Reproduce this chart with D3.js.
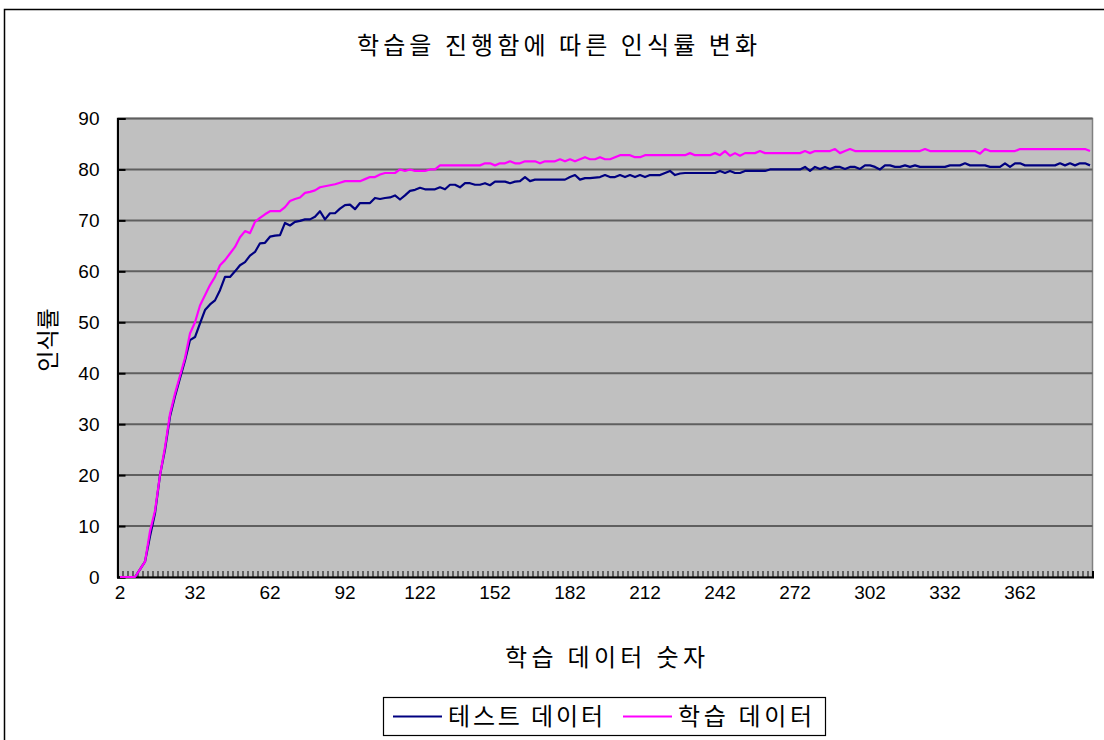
<!DOCTYPE html>
<html>
<head>
<meta charset="utf-8">
<script src="https://cdn.jsdelivr.net/npm/d3@7"></script>
<style>
  body { margin: 0; background: #fff; }
  text { fill: #000; }
</style>
</head>
<body>
<script>
// 학습 데이터 숫자 (2 .. 390, step 2)
var categories = d3.range(2, 392, 2);
var tickLabels = [2, 32, 62, 92, 122, 152, 182, 212, 242, 272, 302, 332, 362];
var yTicks = [0, 10, 20, 30, 40, 50, 60, 70, 80, 90];

var seriesNames = ["테스트 데이터", "학습 데이터"];

var testData = [
  0, 0, 0, 0, 1.5, 3, 8, 12.5, 20, 25,
  31.5, 35.5, 39, 42.5, 46.5, 47.1, 49.8, 52.4, 53.5, 54.3,
  56.3, 58.9, 58.9, 60, 61.2, 61.8, 63.1, 63.8, 65.5, 65.6,
  66.8, 67, 67.1, 69.5, 69, 69.7, 69.9, 70.2, 70.2, 70.7,
  71.8, 70.2, 71.4, 71.4, 72.3, 73, 73.1, 72.2, 73.4, 73.4,
  73.4, 74.4, 74.2, 74.4, 74.5, 74.9, 74.1, 74.9, 75.8, 76,
  76.4, 76.1, 76.1, 76.1, 76.5, 76.1, 77, 77, 76.5, 77.3,
  77.3, 77, 77, 77.3, 76.9, 77.6, 77.6, 77.6, 77.3, 77.6,
  77.7, 78.5, 77.7, 78, 78, 78, 78, 78, 78, 78,
  78.5, 78.9, 78, 78.3, 78.3, 78.4, 78.5, 78.9, 78.5, 78.5,
  78.9, 78.5, 78.9, 78.5, 78.9, 78.5, 78.9, 78.9, 78.9, 79.3,
  79.7, 78.9, 79.2, 79.3, 79.3, 79.3, 79.3, 79.3, 79.3, 79.3,
  79.7, 79.3, 79.7, 79.3, 79.3, 79.7, 79.7, 79.7, 79.7, 79.7,
  80, 80, 80, 80, 80, 80, 80, 80.5, 79.7, 80.5,
  80.1, 80.5, 80.1, 80.5, 80.5, 80.1, 80.5, 80.5, 80.1, 80.8,
  80.8, 80.5, 80, 80.8, 80.8, 80.5, 80.5, 80.8, 80.5, 80.8,
  80.5, 80.5, 80.5, 80.5, 80.5, 80.5, 80.8, 80.8, 80.8, 81.2,
  80.8, 80.8, 80.8, 80.8, 80.5, 80.5, 80.5, 81.2, 80.5, 81.2,
  81.2, 80.8, 80.8, 80.8, 80.8, 80.8, 80.8, 80.8, 81.2, 80.8,
  81.2, 80.8, 81.2, 81.2, 80.8
];

var trainData = [
  0, 0, 0, 0, 1.5, 3, 9, 13, 20, 25.5,
  32, 36, 39.5, 43, 47.8, 50, 53.3, 55.3, 57.3, 58.9,
  61.2, 62.2, 63.5, 64.8, 66.7, 67.9, 67.5, 69.7, 70.5, 71.2,
  71.8, 71.8, 71.8, 72.6, 73.8, 74.2, 74.5, 75.4, 75.6, 75.9,
  76.5, 76.7, 76.9, 77.1, 77.4, 77.7, 77.7, 77.7, 77.7, 78.1,
  78.5, 78.5, 79, 79.3, 79.3, 79.3, 80, 79.7, 80, 79.7,
  79.7, 79.7, 80, 80, 80.8, 80.8, 80.8, 80.8, 80.8, 80.8,
  80.8, 80.8, 80.8, 81.2, 81.2, 80.8, 81.2, 81.2, 81.6, 81.2,
  81.2, 81.6, 81.6, 81.6, 81.2, 81.6, 81.6, 81.6, 82, 81.6,
  82, 81.6, 82, 82.4, 82, 82, 82.4, 82, 82, 82.4,
  82.8, 82.8, 82.8, 82.4, 82.4, 82.8, 82.8, 82.8, 82.8, 82.8,
  82.8, 82.8, 82.8, 82.8, 83.2, 82.8, 82.8, 82.8, 82.8, 83.2,
  82.8, 83.6, 82.7, 83.2, 82.7, 83.2, 83.2, 83.2, 83.6, 83.2,
  83.2, 83.2, 83.2, 83.2, 83.2, 83.2, 83.2, 83.6, 83.2, 83.6,
  83.6, 83.6, 83.6, 84, 83.2, 83.6, 84, 83.6, 83.6, 83.6,
  83.6, 83.6, 83.6, 83.6, 83.6, 83.6, 83.6, 83.6, 83.6, 83.6,
  83.6, 84, 83.6, 83.6, 83.6, 83.6, 83.6, 83.6, 83.6, 83.6,
  83.6, 83.6, 83.1, 84, 83.6, 83.6, 83.6, 83.6, 83.6, 83.6,
  84, 84, 84, 84, 84, 84, 84, 84, 84, 84,
  84, 84, 84, 84, 83.6
];

var colors = ["#000080", "#ff00ff"];

var W = 1104, H = 740;
var plot = {left: 117.5, right: 1092.5, top: 118.5, bottom: 577};

var svg = d3.select("body").append("svg")
    .attr("width", W)
    .attr("height", H)
    .style("font-family", "'Liberation Sans', Arial, sans-serif");

// outer chart border
svg.append("rect")
    .attr("x", 4.5).attr("y", 9.5)
    .attr("width", 1120).attr("height", 760)
    .attr("fill", "#fff")
    .attr("stroke", "#000")
    .attr("stroke-width", 1.5);

var x = d3.scaleBand()
    .domain(categories)
    .range([plot.left, plot.right])
    .padding(0);

var xEdge = d3.scaleLinear()
    .domain([0, categories.length])
    .range([plot.left, plot.right]);

var y = d3.scaleLinear()
    .domain([0, 90])
    .range([plot.bottom, plot.top]);

// plot area
svg.append("rect")
    .attr("x", plot.left).attr("y", plot.top)
    .attr("width", plot.right - plot.left)
    .attr("height", plot.bottom - plot.top)
    .attr("fill", "#c0c0c0")
    .attr("stroke", "#808080")
    .attr("stroke-width", 1.5);

// gridlines
svg.append("g")
  .selectAll("line")
  .data(yTicks.slice(1))
  .enter().append("line")
    .attr("x1", plot.left).attr("x2", plot.right)
    .attr("y1", function(d) { return y(d); })
    .attr("y2", function(d) { return y(d); })
    .attr("stroke", "#5f5f5f")
    .attr("stroke-width", 2);

// y axis
var yAxis = svg.append("g")
    .attr("transform", "translate(" + plot.left + ",0)")
    .call(d3.axisLeft(y).tickValues(yTicks).tickSize(-8).tickPadding(18));
yAxis.select(".domain").attr("stroke", "#000").attr("stroke-width", 2);
yAxis.selectAll(".tick line").attr("stroke", "#000").attr("stroke-width", 2);
yAxis.selectAll("text").attr("font-size", 19).attr("fill", "#000");

// x axis minor ticks (category boundaries)
var xTickAxis = svg.append("g")
    .attr("transform", "translate(0," + plot.bottom + ")")
    .call(d3.axisBottom(xEdge).tickValues(d3.range(categories.length + 1)).tickSize(-6).tickFormat(""));
xTickAxis.select(".domain").attr("stroke", "#000").attr("stroke-width", 2);
xTickAxis.selectAll(".tick line").attr("stroke", "#000").attr("stroke-width", 1);

// x axis labels
var xLabelAxis = svg.append("g")
    .attr("transform", "translate(0," + plot.bottom + ")")
    .call(d3.axisBottom(x).tickValues(tickLabels).tickSize(0).tickPadding(9));
xLabelAxis.select(".domain").remove();
xLabelAxis.selectAll("text").attr("font-size", 19).attr("fill", "#000");

// lines
var line = d3.line()
    .x(function(d, i) { return x(categories[i]) + x.bandwidth() / 2; })
    .y(function(d) { return y(d); });

[testData, trainData].forEach(function(s, k) {
  svg.append("path")
      .datum(s)
      .attr("fill", "none")
      .attr("stroke", colors[k])
      .attr("stroke-width", 2.2)
      .attr("stroke-linejoin", "round")
      .attr("d", line);
});

var kfont = "'Noto Sans CJK KR', sans-serif";

// title
svg.append("text")
    .attr("x", 557).attr("y", 54)
    .attr("text-anchor", "middle")
    .style("font-family", kfont)
    .attr("font-size", 24)
    .attr("textLength", 400)
    .attr("lengthAdjust", "spacing")
    .text("학습을 진행함에 따른 인식률 변화");

// axis titles
svg.append("text")
    .attr("x", 605).attr("y", 666)
    .attr("text-anchor", "middle")
    .style("font-family", kfont)
    .attr("font-size", 24)
    .attr("textLength", 200)
    .attr("lengthAdjust", "spacing")
    .text("학습 데이터 숫자");

svg.append("text")
    .attr("transform", "translate(56,340) rotate(-90)")
    .attr("text-anchor", "middle")
    .style("font-family", kfont)
    .attr("font-size", 23)
    .text("인식률");

// legend
var lg = svg.append("g");
lg.append("rect")
    .attr("x", 383.5).attr("y", 697.5)
    .attr("width", 442).attr("height", 38)
    .attr("fill", "#fff")
    .attr("stroke", "#000")
    .attr("stroke-width", 1.2);

var legendX = [393, 623];
var legendW = [155, 134];
seriesNames.forEach(function(name, k) {
  lg.append("line")
      .attr("x1", legendX[k]).attr("x2", legendX[k] + 49)
      .attr("y1", 716.5).attr("y2", 716.5)
      .attr("stroke", colors[k])
      .attr("stroke-width", 2);
  lg.append("text")
      .attr("x", legendX[k] + 55).attr("y", 725)
      .style("font-family", kfont)
      .attr("font-size", 24)
      .attr("textLength", legendW[k])
      .attr("lengthAdjust", "spacing")
      .text(name);
});
</script>
</body>
</html>
